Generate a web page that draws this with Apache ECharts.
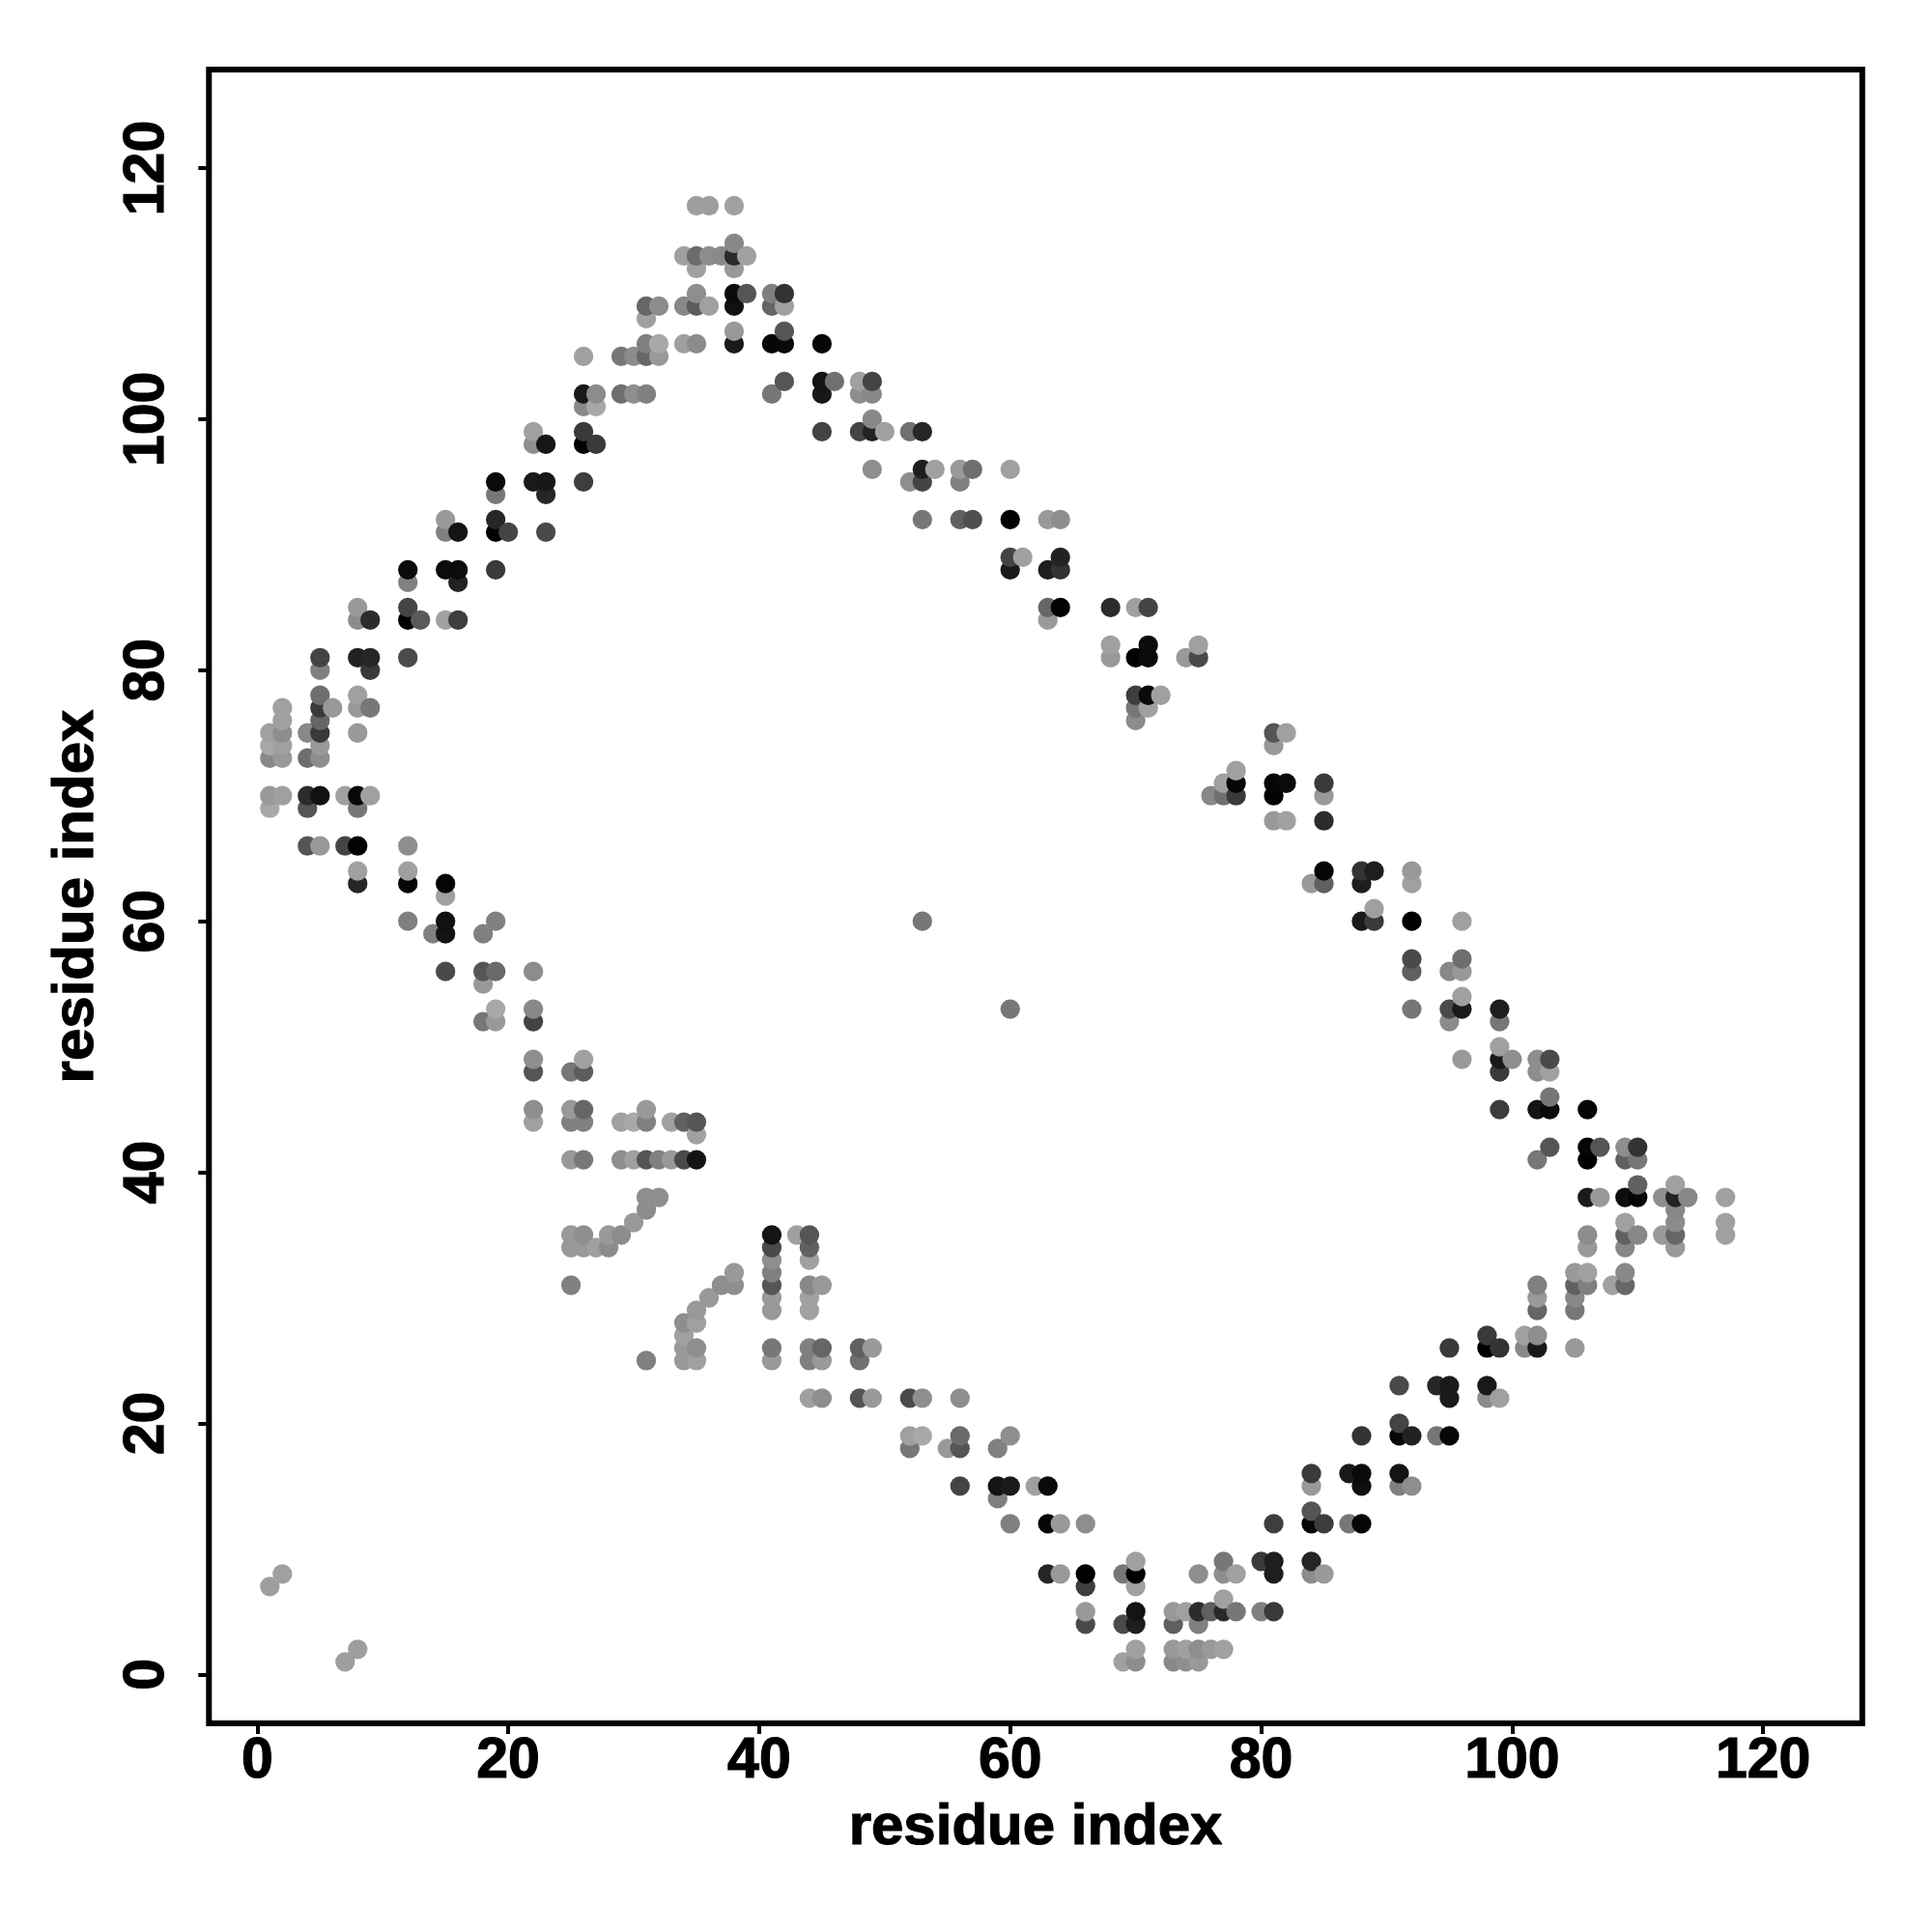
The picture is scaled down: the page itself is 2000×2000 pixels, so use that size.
<!DOCTYPE html>
<html><head><meta charset="utf-8">
<style>html,body{margin:0;padding:0;background:#fff}#c{width:2000px;height:2000px}</style>
<script src="https://cdn.jsdelivr.net/npm/echarts@6/dist/echarts.min.js"></script>
</head><body><div id="c"></div>
<script>
const xLabel = "residue index";
const yLabel = "residue index";
const tickValues = [0,20,40,60,80,100,120];
// one entry per row of contacts: y index, x indices, grey level (0-255)
const rowY = [];
const rowX = [];
const rowGrey = [];
function row(y,xs,gs){rowY.push(y);rowX.push(xs);rowGrey.push(gs);}
row(117,[35,36,38],[158,158,160]);
row(114,[38],[136]);
row(113,[34,35,36,37,38,39],[160,108,140,136,42,160]);
row(112,[35,38],[160,153]);
row(110,[35,38,39,41,42],[142,10,85,128,51]);
row(109,[31,32,34,35,36,38,41,42],[102,140,136,92,160,17,102,160]);
row(108,[31],[160]);
row(107,[38,42],[153,85]);
row(106,[31,32,34,35,38,41,42,45],[128,168,160,140,26,6,10,6]);
row(105,[26,29,30,31,32],[160,119,140,102,153]);
row(103,[42,45,46,48,49],[85,20,112,160,68]);
row(102,[26,27,29,30,31,41,45,48,49],[26,140,110,142,128,119,24,142,136]);
row(101,[26,27],[136,168]);
row(100,[49],[136]);
row(99,[22,26,45,48,49,50,52,53],[160,58,68,68,34,160,112,38]);
row(98,[22,23,26,27],[142,22,0,58]);
row(96,[49,53,54,56,57,60],[142,30,160,153,110,160]);
row(95,[19,22,23,26,52,53,56],[10,26,24,62,142,68,128]);
row(94,[19,23],[119,38]);
row(92,[15,19,53,56,57,60,63,64],[153,38,119,96,78,2,153,142]);
row(91,[15,16,19,20,23],[128,20,2,68,74]);
row(89,[60,61,64],[68,160,34]);
row(88,[12,15,16,19,60,63,64],[10,12,12,58,26,30,51]);
row(87,[12,16],[128,34]);
row(85,[8,12,63,64,68,70,71],[153,68,102,2,44,160,68]);
row(84,[8,9,12,13,15,16,63],[140,44,2,90,160,62,153]);
row(82,[68,71,75],[160,10,160]);
row(81,[5,8,9,12,68,70,71,74,75],[68,34,38,74,153,2,10,153,74]);
row(80,[5,9],[128,58]);
row(78,[5,8,70,71,72],[110,160,62,10,160]);
row(77,[2,5,6,8,9,70,71],[160,58,153,153,119,119,160]);
row(76,[2,5,70],[160,102,140]);
row(75,[1,2,4,5,8,81,82],[160,142,136,56,153,85,160]);
row(74,[1,2,5,81],[168,160,153,153]);
row(73,[1,2,4,5],[136,153,110,142]);
row(72,[78],[160]);
row(71,[77,78,81,82,85],[160,6,6,10,58]);
row(70,[1,2,4,5,7,8,9,76,77,78,81,85],[153,160,44,17,160,8,160,136,112,58,2,153]);
row(69,[1,4,8],[168,85,119]);
row(68,[81,82,85],[153,160,44]);
row(66,[4,5,7,8,12],[85,153,68,2,142]);
row(64,[8,12,85,88,89,92],[160,160,6,51,30,153]);
row(63,[8,12,15,84,85,88,92],[38,6,6,153,96,30,160]);
row(62,[15],[160]);
row(61,[89],[160]);
row(60,[12,15,19,53,88,89,92,96],[128,17,128,119,26,58,0,160]);
row(59,[14,15,18],[128,20,128]);
row(57,[92,96],[74,110]);
row(56,[15,18,19,22,92,95,96],[74,85,106,140,96,136,153]);
row(55,[18],[153]);
row(54,[96],[160]);
row(53,[19,22,60,92,95,96,99],[168,136,119,119,74,26,30]);
row(52,[18,19,22,95,99],[119,153,68,140,119]);
row(50,[99],[160]);
row(49,[22,26,96,99,100,102,103],[142,160,153,26,142,142,74]);
row(48,[22,25,26,99,102,103],[85,119,92,58,142,160]);
row(46,[103],[119]);
row(45,[22,25,26,31,99,102,103,106],[142,153,102,153,60,20,10,6]);
row(44,[22,25,26,29,30,31,33,34,35],[160,128,128,160,168,128,160,96,85]);
row(43,[35],[160]);
row(42,[103,106,107,109,110],[85,6,85,142,51]);
row(41,[25,26,29,30,31,32,33,34,35,102,106,109,110],[153,119,142,160,85,128,153,74,20,119,2,96,119]);
row(39,[110,113],[96,160]);
row(38,[31,32,106,107,109,110,112,113,114,117],[142,142,26,153,14,6,142,34,136,160]);
row(37,[31,113],[140,136]);
row(36,[30,109,113,117],[153,160,140,160]);
row(35,[25,26,28,29,41,43,44,106,109,110,112,113,117],[153,142,153,140,20,160,85,140,96,136,153,102,160]);
row(34,[25,26,27,28,41,44,106,109,113],[153,153,160,140,74,96,153,136,153]);
row(33,[41,44],[142,160]);
row(32,[38,41,105,106,109],[153,128,153,160,136]);
row(31,[25,37,38,41,44,45,102,105,106,108,109],[128,142,142,85,136,153,128,96,128,160,102]);
row(30,[36,41,44,102,105],[153,153,160,153,136]);
row(29,[35,41,44,102,105],[153,153,160,102,119]);
row(28,[34,35],[142,160]);
row(27,[34,98,101,102],[160,58,160,142]);
row(26,[34,35,41,44,45,48,49,95,98,99,101,102,105],[153,142,119,128,102,96,153,58,0,51,136,26,153]);
row(25,[31,34,35,41,44,45,48],[128,153,160,153,128,153,112]);
row(23,[91,94,95,98],[74,38,26,26]);
row(22,[44,45,48,49,52,53,56,95,98,99],[160,142,85,153,74,142,142,26,140,160]);
row(20,[91],[68]);
row(19,[52,53,56,60,88,91,92,94,95],[160,168,106,142,51,6,34,119,6]);
row(18,[52,55,56,59],[119,153,85,128]);
row(16,[84,87,88,91],[58,26,10,20]);
row(15,[56,59,60,62,63,84,88,91,92],[68,20,26,160,10,153,14,128,142]);
row(14,[59],[128]);
row(13,[84],[85]);
row(12,[60,63,64,66,81,84,85,87,88],[128,6,153,142,62,6,60,119,6]);
row(9,[70,77,80,81,84],[160,119,58,30,38]);
row(8,[2,63,64,66,69,70,75,77,78,81,84,85],[160,38,153,0,119,0,142,142,160,30,140,153]);
row(7,[1,66,70],[158,62,160]);
row(6,[77],[160]);
row(5,[66,70,73,74,75,76,77,78,80,81],[153,20,153,160,44,96,42,119,128,58]);
row(4,[66,69,70,73,75],[74,74,30,96,128]);
row(2,[8,70,73,74,75,76,77],[158,160,153,160,142,153,160]);
row(1,[7,69,70,73,74,75],[158,160,142,136,142,153]);

const points = [];
rowY.forEach((y,i)=>rowX[i].forEach((x,j)=>points.push([x,y,rowGrey[i][j]])));
// the original paints by x, then by y
points.sort((a,b)=>a[0]-b[0]||a[1]-b[1]);
const data = points.map(p=>({value:[p[0],p[1]],itemStyle:{color:`rgb(${p[2]},${p[2]},${p[2]})`}}));

const font = {fontFamily:"'Liberation Sans'",fontWeight:'bold',fontSize:59,color:'#000',textBorderColor:'#000',textBorderWidth:1.2};
const axisCommon = {
  type:'value',
  splitLine:{show:false},
  axisLine:{show:false,onZero:false},
  axisTick:{show:true,length:11,lineStyle:{color:'#000',width:4},customValues:tickValues},
  nameLocation:'middle',
  nameTextStyle:{...font,fontSize:60}
};
const chart = echarts.init(document.getElementById('c'),null,{renderer:'canvas'});
chart.setOption({
  animation:false,
  backgroundColor:'#fff',
  grid:{left:216.3,top:72,width:1711.5,height:1712,show:true,borderColor:'#000',borderWidth:6,backgroundColor:'transparent'},
  xAxis:{...axisCommon,min:-3.85,max:127.9,name:xLabel,nameGap:78,
    axisLabel:{...font,margin:10,customValues:tickValues,hideOverlap:false}},
  yAxis:{...axisCommon,min:-3.9,max:127.85,name:yLabel,nameGap:107,
    axisLabel:{...font,margin:34,rotate:90,customValues:tickValues,hideOverlap:false}},
  series:[{type:'scatter',symbol:'circle',symbolSize:20.3,data:data,silent:true,itemStyle:{opacity:1}}]
});
</script></body></html>
